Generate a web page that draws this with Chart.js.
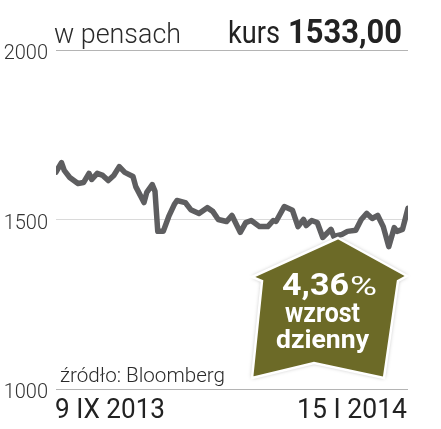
<!DOCTYPE html>
<html>
<head>
<meta charset="utf-8">
<script src="https://cdn.jsdelivr.net/npm/chart.js@4.4.1/dist/chart.umd.min.js"></script>
<style>
  html, body { margin: 0; padding: 0; background: #fff; }
  #wrap { width: 441px; height: 429px; }
</style>
</head>
<body>
<div id="wrap"><canvas id="myChart" width="441" height="429"></canvas></div>
<script>
// Dates as day offsets from 9 IX 2013, prices in pence
const days = [0, 2, 3, 5, 8, 10, 12, 13, 15, 17, 19, 21, 23, 25, 28, 29, 32, 33, 35, 36,
  37, 39, 41, 43, 44, 47, 49, 52, 55, 57, 59, 62, 64, 67, 69, 71, 74, 77, 79, 80,
  83, 86, 88, 90, 91, 93, 95, 97, 100, 101, 104, 106, 109, 111, 113, 115, 117, 119, 121, 123,
  124, 126, 128];
const prices = [1640, 1668, 1645, 1624, 1606, 1609, 1636, 1618, 1636, 1630, 1615, 1630, 1656, 1639, 1627, 1597, 1550, 1580, 1603, 1583,
  1465, 1465, 1509, 1544, 1556, 1550, 1529, 1518, 1535, 1524, 1500, 1494, 1512, 1462, 1491, 1497, 1479, 1479, 1497, 1494,
  1538, 1527, 1479, 1500, 1482, 1497, 1491, 1447, 1471, 1450, 1456, 1465, 1468, 1500, 1518, 1503, 1512, 1479, 1420, 1476,
  1465, 1471, 1533];
const yTicks = [1000, 1500, 2000];
const dateLabels = ['9 IX 2013', '15 I 2014'];
const lastPrice = '1533,00';
const dailyChange = '4,36';

// draw text squeezed/stretched to a given width
function fitText(ctx, text, x, y, w, font, color, align) {
    ctx.save();
    ctx.font = font;
    ctx.fillStyle = color;
    ctx.textAlign = 'left';
    ctx.textBaseline = 'alphabetic';
    const m = ctx.measureText(text).width;
    let left = x;
    if (align === 'right') left = x - w;
    if (align === 'center') left = x - w / 2;
    ctx.translate(left, y);
    ctx.scale(w / m, 1);
    ctx.fillText(text, 0, 0);
    ctx.restore();
}

const decor = {
    id: 'decor',
    afterDraw(chart) {
        const ctx = chart.ctx;
        const a = chart.chartArea;

        // header
        fitText(ctx, 'w pensach', a.left - 2, 43, 127, '300 27px Roboto', '#2a2a2a');
        fitText(ctx, 'kurs', 228, 43, 52, '400 31px Roboto', '#222');
        fitText(ctx, lastPrice, a.right - 6, 43, 114, '700 34px Roboto', '#222', 'right');

        // footer
        fitText(ctx, 'źródło: Bloomberg', a.left + 4, 382, 165, '300 20px Roboto', '#2a2a2a');
        fitText(ctx, dateLabels[0], a.left - 1, 418, 110, '400 27px Roboto', '#222');
        fitText(ctx, dateLabels[1], a.right - 1, 418, 110, '400 27px Roboto', '#222', 'right');

        // house badge
        ctx.save();
        ctx.beginPath();
        ctx.moveTo(338, 238);
        ctx.lineTo(407, 276);
        ctx.lineTo(398, 281);
        ctx.lineTo(384, 378);
        ctx.lineTo(314, 363);
        ctx.lineTo(252, 378);
        ctx.lineTo(262, 281);
        ctx.lineTo(252, 277);
        ctx.closePath();
        ctx.shadowColor = 'rgba(0,0,0,0.35)';
        ctx.shadowBlur = 4;
        ctx.fillStyle = '#6c6a27';
        ctx.fill();
        ctx.shadowColor = 'transparent';
        ctx.lineJoin = 'miter';
        ctx.lineWidth = 2.5;
        ctx.strokeStyle = '#fff';
        ctx.stroke();
        ctx.restore();

        fitText(ctx, dailyChange, 282, 295, 67, '700 31px Roboto', '#fff');
        fitText(ctx, '%', 350, 295, 27, '400 25px Roboto', '#fff');
        fitText(ctx, 'wzrost', 285, 322, 75, '700 27px Roboto', '#fff');
        fitText(ctx, 'dzienny', 276, 348, 93, '700 26px Roboto', '#fff');
    }
};

const ctx = document.getElementById('myChart').getContext('2d');
const myChart = new Chart(ctx, {
    type: 'line',
    data: {
        datasets: [{
            data: days.map((d, i) => ({ x: d, y: prices[i] })),
            borderColor: '#5e5e60',
            borderWidth: 5.5,
            borderJoinStyle: 'round',
            borderCapStyle: 'round',
            pointRadius: 0,
            tension: 0,
            fill: false
        }]
    },
    options: {
        responsive: false,
        animation: false,
        devicePixelRatio: 1,
        layout: { padding: { top: 50, bottom: 40, right: 33, left: 0 } },
        plugins: {
            legend: { display: false },
            tooltip: { enabled: false }
        },
        scales: {
            x: {
                type: 'linear',
                min: days[0],
                max: days[days.length - 1],
                display: false
            },
            y: {
                min: yTicks[0],
                max: yTicks[yTicks.length - 1],
                afterBuildTicks: scale => { scale.ticks = yTicks.map(v => ({ value: v })); },
                afterFit: scale => { scale.width = 56; },
                border: { display: false },
                grid: {
                    drawTicks: false,
                    lineWidth: 1,
                    color: c => c.tick && c.tick.value === 1500 ? '#dadada' : '#b4b4b4'
                },
                ticks: {
                    padding: 8,
                    labelOffset: 4,
                    color: '#333',
                    font: { family: 'Roboto', size: 20, weight: '300' },
                    callback: v => String(v)
                }
            }
        }
    },
    plugins: [decor]
});
</script>
</body>
</html>
